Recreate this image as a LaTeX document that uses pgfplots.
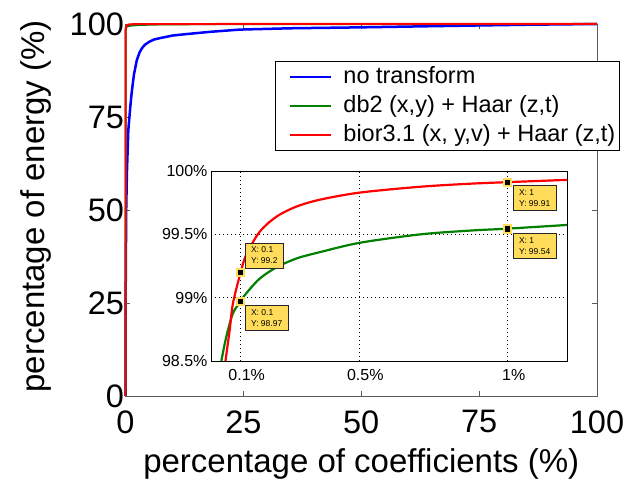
\documentclass[border=0pt]{standalone}
\usepackage{fontspec}
\setmainfont{Liberation Sans}
\usepackage{pgfplots}
\pgfplotsset{compat=1.18}
\definecolor{tipfill}{RGB}{255,221,90}
\definecolor{axgray}{RGB}{90,90,90}
\definecolor{mblue}{RGB}{0,0,255}
\definecolor{mgreen}{RGB}{0,128,0}
\definecolor{mred}{RGB}{255,0,0}
\begin{document}
\begin{tikzpicture}
\begin{axis}[
 scale only axis, width=471.5pt, height=372pt,
 xmin=0, xmax=100, ymin=0, ymax=100,
 xtick={0,25,50,75,100}, ytick={0,25,50,75,100},
 tick align=inside, major tick length=5pt,
 axis line style={axgray, line width=0.8pt},
 tick style={axgray, line width=0.8pt},
 /pgf/number format/assume math mode=true,
 tick label style={font=\fontsize{32.5}{38}\selectfont},
 xticklabel style={yshift=-11pt},
 yticklabel style={xshift=2pt},
 xlabel={percentage of coefficients (\%)},
 ylabel={percentage of energy (\%)},
 label style={font=\fontsize{33}{40}\selectfont},
 xlabel style={at={(axis description cs:0.5,-0.183)}, anchor=center},
 ylabel style={at={(axis description cs:-0.19,0.51)}, anchor=center},
 clip=false,
 legend style={at={(0.317,0.9005)}, anchor=north west, draw=black, fill=white,
   line width=1pt, font=\fontsize{23.5}{27}\selectfont, inner xsep=3pt, inner ysep=1pt, row sep=0pt,
   nodes={inner sep=1pt, text height=20pt, text depth=7pt}},
 legend cell align=left,
 legend image code/.code={\path[draw=none] (0pt,0pt) -- (64pt,0pt);\draw[#1, line width=2.5pt] (12pt,0pt) -- (53pt,0pt);},
]
\addplot[mblue, line width=2.5pt] coordinates {
(0,0) (0.05,30) (0.15,50) (0.3,60) (0.6,71.5) (1,77.5) (1.3,81.4) (1.8,86.5) (2.4,90.3)
(3,92.4) (3.5,93.5) (4.1,94.4) (5,95.2) (6,95.8) (7.3,96.2) (10,96.9) (13,97.3) (18,97.9) (24.3,98.5)
(35,98.85) (50,99.1) (62,99.35) (72,99.55) (85,99.8) (100,100)};
\addlegendentry{no transform}
\addplot[mgreen, line width=2pt] coordinates {
(0,0) (0.02,97) (0.035,98.5) (0.0515,98.69) (0.1,98.97) (0.221,99.245) (0.707,99.50)
(1,99.54) (1.2,99.57) (3,99.75) (8,99.9) (20,99.97) (100,100)};
\addlegendentry{db2 (x,y) + Haar (z,t)}
\addplot[mred, line width=2pt] coordinates {
(0,0) (0.03,97) (0.05,98.5) (0.063,98.745) (0.1,99.2) (0.221,99.64) (0.707,99.876)
(1,99.91) (1.2,99.93) (5,99.98) (20,100) (100,100)};
\addlegendentry{bior3.1 (x, y,v) + Haar (z,t)}
\end{axis}
\begin{axis}[
 at={(85.5pt,35pt)}, anchor=south west,
 scale only axis, width=356pt, height=190pt,
 xmin=0, xmax=1.2, ymin=98.5, ymax=100,
 xtick={0.1,0.5,1}, xticklabels={0.1\%,0.5\%,1\%},
 ytick={98.5,99,99.5,100}, yticklabels={98.5\%,99\%,99.5\%,100\%},
 grid=major,
 major grid style={black, line width=0.8pt, dash pattern=on 0.8pt off 3.2pt},
 major tick length=0pt,
 axis line style={black, line width=0.9pt},
 tick label style={font=\fontsize{16}{19}\selectfont},
 xticklabel style={xshift=6pt, yshift=-5pt},
 axis background/.style={fill=white},
]
\addplot[mgreen, line width=2.2pt, smooth, tension=0.5] coordinates {
(0.033,98.45) (0.035,98.5) (0.0515,98.69) (0.074,98.877) (0.1,98.97) (0.119,99.035)
(0.164,99.15) (0.221,99.24) (0.289,99.31) (0.368,99.36) (0.503,99.434) (0.707,99.50)
(0.876,99.53) (1,99.545) (1.2,99.574)};
\addplot[mred, line width=2.2pt, smooth, tension=0.5] coordinates {
(0.047,98.45) (0.05,98.52) (0.063,98.745) (0.074,98.956) (0.1,99.2) (0.119,99.34)
(0.164,99.52) (0.221,99.64) (0.289,99.72) (0.37,99.775) (0.503,99.83) (0.707,99.876)
(0.876,99.90) (1,99.912) (1.2,99.93)};
\addplot[only marks, mark=square*, mark size=3.8pt, mark options={fill=black, draw=tipfill, line width=2pt}]
 coordinates {(0.1,99.2) (1,99.91) (0.1,98.97) (1,99.54)};
\tikzset{tip/.style={draw=black!85, line width=0.8pt, fill=tipfill, font=\fontsize{8.5}{11}\selectfont, align=left, inner xsep=6pt, inner ysep=4pt}}
\node[tip, anchor=south west] at ([shift={(4pt,4pt)}]axis cs:0.1,99.2) {X: 0.1\\Y: 99.2};
\node[tip, anchor=north west] at ([shift={(4pt,-4pt)}]axis cs:0.1,98.97) {X: 0.1\\Y: 98.97};
\node[tip, anchor=north west] at ([shift={(5pt,-3pt)}]axis cs:1,99.91) {X: 1\\Y: 99.91};
\node[tip, anchor=north west] at ([shift={(5pt,-4pt)}]axis cs:1,99.54) {X: 1\\Y: 99.54};
\end{axis}
\pgfresetboundingbox
\useasboundingbox (-125.5pt,-91pt) rectangle (514.5pt,396pt);
\end{tikzpicture}
\end{document}
